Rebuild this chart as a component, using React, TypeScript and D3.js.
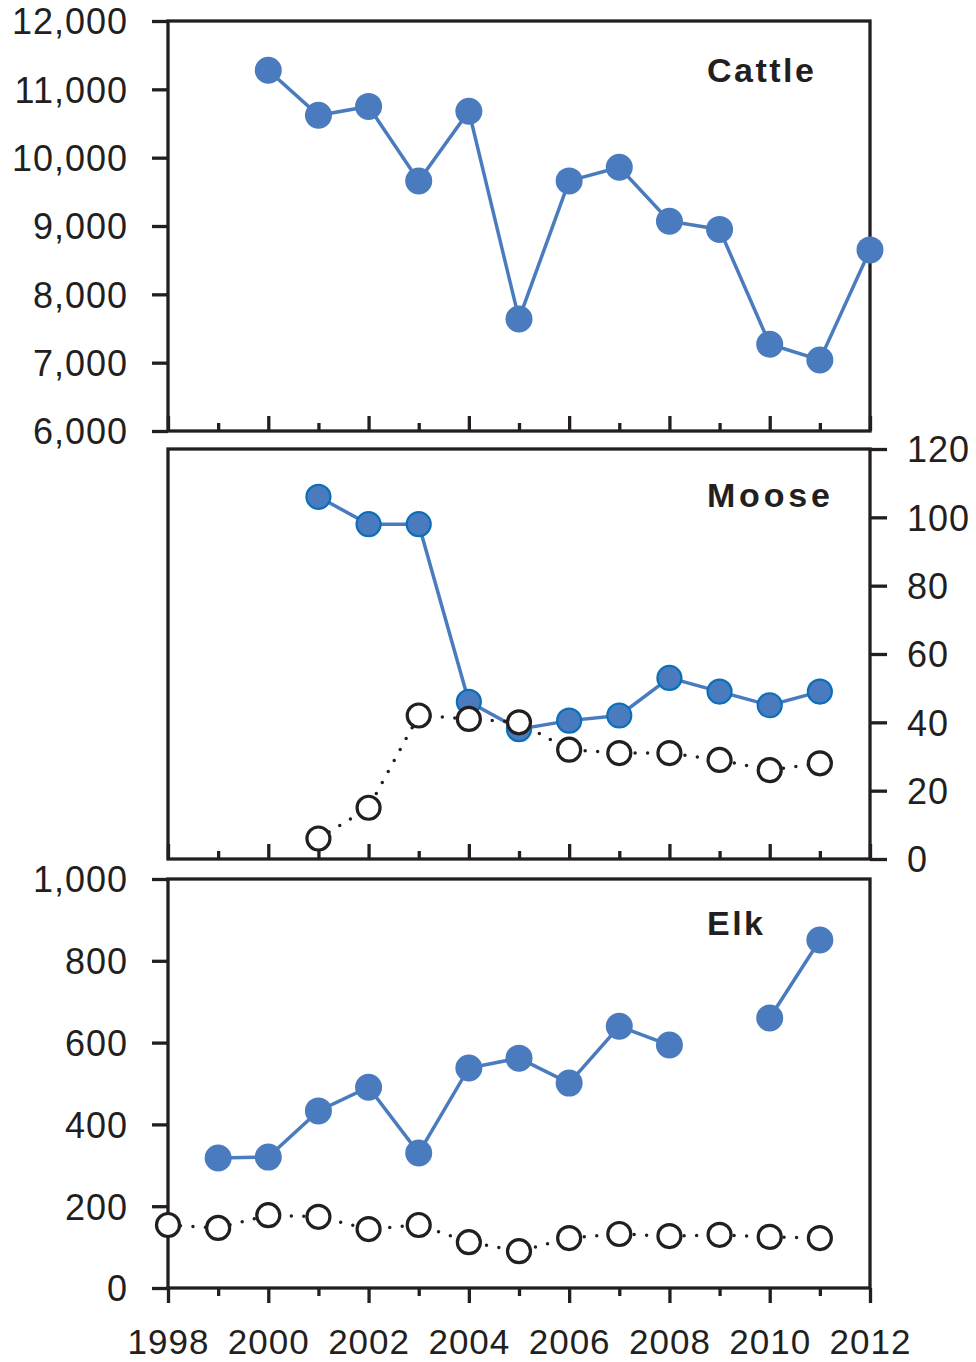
import React, { useEffect, useRef } from "react";
import * as d3 from "d3";

// data
const years = [1998, 1999, 2000, 2001, 2002, 2003, 2004, 2005, 2006, 2007, 2008, 2009, 2010, 2011, 2012];

const cattle = [null, null, 11280, 10620, 10750, 9660, 10680, 7640, 9660, 9860, 9070, 8950, 7270, 7040, 8650];

const mooseFilled = [null, null, null, 106, 98, 98, 46, 38, 40.5, 42, 53, 49, 45, 49, null];
const mooseOpen = [null, null, null, 6, 15, 42, 41, 40, 32, 31, 31, 29, 26, 28, null];

const elkFilled = [null, 318, 320, 433, 491, 330, 538, 562, 501, 640, 594, null, 660, 851, null];
const elkOpen = [154, 147, 178, 174, 144, 154, 112, 90, 122, 132, 127, 130, 125, 122, null];

const cattleTicks = [6000, 7000, 8000, 9000, 10000, 11000, 12000];
const mooseTicks = [0, 20, 40, 60, 80, 100, 120];
const elkTicks = [0, 200, 400, 600, 800, 1000];

const BLUE = "#4a7bbe";
const INK = "#231f20";

export default function App() {
  const ref = useRef<SVGSVGElement>(null);

  useEffect(() => {
    const svg = d3.select(ref.current);
    svg.selectAll("*").remove();

    const x = d3.scaleLinear().domain([1998, 2012]).range([168, 870]);
    const evenYears = years.filter((y) => y % 2 === 0);
    const oddYears = years.filter((y) => y % 2 === 1);

    const panels = [
      { name: "Cattle", top: 21, bottom: 431, domain: [6000, 12000], ticks: cattleTicks, side: "left", ly: 82, ls: 2.5 },
      { name: "Moose", top: 449, bottom: 859, domain: [0, 120], ticks: mooseTicks, side: "right", ly: 507, ls: 3.8 },
      { name: "Elk", top: 879, bottom: 1288, domain: [0, 1000], ticks: elkTicks, side: "left", ly: 935, ls: 2.5 },
    ];

    const styleAxis = (g) => {
      g.select(".domain").remove();
      g.selectAll("line").attr("stroke", INK).attr("stroke-width", 3.3);
      g.selectAll("text")
        .attr("fill", INK)
        .style("font-family", "'Liberation Sans', Arial, sans-serif")
        .style("font-size", "36px")
        .style("letter-spacing", "1px");
    };

    const scales = panels.map((p) => d3.scaleLinear().domain(p.domain).range([p.bottom, p.top]));

    panels.forEach((p, i) => {
      const y = scales[i];
      const g = svg.append("g");

      // frame
      g.append("rect")
        .attr("x", 168).attr("y", p.top)
        .attr("width", 870 - 168).attr("height", p.bottom - p.top)
        .attr("fill", "none").attr("stroke", INK).attr("stroke-width", 3.3);

      // value axis
      if (p.side === "left") {
        const ax = d3.axisLeft(y).tickValues(p.ticks).tickSize(16).tickPadding(24).tickFormat(d3.format(","));
        g.append("g").attr("transform", "translate(168,0)").call(ax).call(styleAxis)
          .selectAll("text").attr("dy", "0.36em");
      } else {
        const ax = d3.axisRight(y).tickValues(p.ticks).tickSize(17).tickPadding(20).tickFormat(d3.format(","));
        g.append("g").attr("transform", "translate(870,0)").call(ax).call(styleAxis)
          .selectAll("text").attr("dy", "0.36em");
      }

      // year ticks
      const inward = i < 2;
      const major = d3.axisBottom(x).tickValues(evenYears).tickSize(inward ? -15 : 15).tickFormat(d3.format("d"));
      const minor = d3.axisBottom(x).tickValues(oddYears).tickSize(inward ? -8 : 8).tickFormat(() => "");
      const gm = g.append("g").attr("transform", `translate(0,${p.bottom})`).call(major).call(styleAxis);
      if (inward) gm.selectAll("text").remove();
      else gm.selectAll("text").attr("y", 66).attr("dy", 0)
        .style("font-size", "35px").style("letter-spacing", "1px");
      g.append("g").attr("transform", `translate(0,${p.bottom})`).call(minor).call(styleAxis);

      // panel title
      g.append("text")
        .attr("x", 707).attr("y", p.ly)
        .attr("fill", INK)
        .style("font-family", "'Liberation Sans', Arial, sans-serif")
        .style("font-weight", "bold")
        .style("font-size", "34px")
        .style("letter-spacing", `${p.ls}px`)
        .text(p.name);
    });

    const drawFilled = (vals, y, r, stroke) => {
      const pts = years.map((yr, i) => ({ yr, v: vals[i] }));
      const line = d3.line().defined((d) => d.v != null).x((d) => x(d.yr)).y((d) => y(d.v));
      svg.append("path").datum(pts).attr("d", line)
        .attr("fill", "none").attr("stroke", BLUE).attr("stroke-width", 3.5);
      svg.append("g").selectAll("circle").data(pts.filter((d) => d.v != null)).join("circle")
        .attr("cx", (d) => x(d.yr)).attr("cy", (d) => y(d.v)).attr("r", r)
        .attr("fill", BLUE)
        .attr("stroke", stroke || "none").attr("stroke-width", stroke ? 2.2 : 0);
    };

    const drawOpen = (vals, y) => {
      const pts = years.map((yr, i) => ({ yr, v: vals[i] })).filter((d) => d.v != null);
      const line = d3.line().x((d) => x(d.yr)).y((d) => y(d.v));
      svg.append("path").datum(pts).attr("d", line)
        .attr("fill", "none").attr("stroke", INK).attr("stroke-width", 3.5)
        .attr("stroke-linecap", "round").attr("stroke-dasharray", "0 12.5");
      svg.append("g").selectAll("circle").data(pts).join("circle")
        .attr("cx", (d) => x(d.yr)).attr("cy", (d) => y(d.v)).attr("r", 11.5)
        .attr("fill", "#fff").attr("stroke", INK).attr("stroke-width", 3.2);
    };

    drawFilled(cattle, scales[0], 13.5);
    drawFilled(mooseFilled, scales[1], 12, "#0a6fb8");
    drawOpen(mooseOpen, scales[1]);
    drawFilled(elkFilled, scales[2], 13.5);
    drawOpen(elkOpen, scales[2]);
  }, []);

  return (
    <div style={{ position: "absolute", left: 0, top: 0, background: "#fff" }}>
      <svg ref={ref} width={976} height={1362} style={{ display: "block" }} />
    </div>
  );
}
